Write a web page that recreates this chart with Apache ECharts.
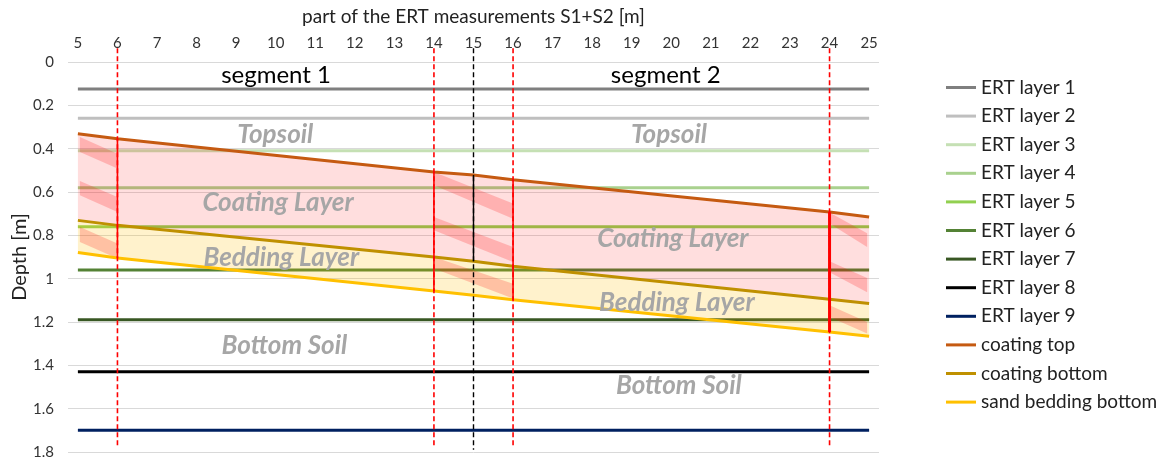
<!DOCTYPE html>
<html><head><meta charset="utf-8">
<script src="https://cdn.jsdelivr.net/npm/echarts@6/dist/echarts.min.js"></script>
<style>html,body{margin:0;padding:0;background:#fff}#chart{width:1163px;height:463px}</style>
</head><body><div id="chart"></div>
<script>
// ---------- data ----------
const xTickValues = [5,6,7,8,9,10,11,12,13,14,15,16,17,18,19,20,21,22,23,24,25];
const depthTicks = [0,0.2,0.4,0.6,0.8,1,1.2,1.4,1.6,1.8];
const ertNames = ['ERT layer 1','ERT layer 2','ERT layer 3','ERT layer 4','ERT layer 5','ERT layer 6','ERT layer 7','ERT layer 8','ERT layer 9'];
const ertDepths = [0.125, 0.26, 0.41, 0.58, 0.76, 0.96, 1.19, 1.43, 1.70];
const ertStart = 5, ertEnd = 25;
const profileX = [5, 6, 14, 15, 16, 24, 25];
const coatingTop = [0.331, 0.354, 0.508, 0.522, 0.543, 0.692, 0.715];
const coatingBottom = [0.731, 0.754, 0.900, 0.920, 0.943, 1.095, 1.115];
const sandBottom = [0.879, 0.905, 1.057, 1.077, 1.097, 1.246, 1.266];
const profileNames = ['coating top','coating bottom','sand bedding bottom'];
const cutX = [6, 14, 16, 24];
const jointX = 15;
const guideTop = -0.063, guideBottom = 1.78;
// hatch stripes: [x1, top1, bottom1, x2, top2, bottom2]
const stripes = [
  [5.05,0.346,0.415, 6,0.423,0.492],
  [5.05,0.549,0.615, 6,0.623,0.692],
  [5.05,0.761,0.831, 6,0.838,0.907],
  [14,0.508,0.569, 16,0.653,0.723],
  [14,0.715,0.777, 16,0.854,0.923],
  [14,0.900,0.953, 16,1.023,1.092],
  [24,0.695,0.745, 24.95,0.790,0.854],
  [24,0.920,0.970, 24.95,0.997,1.063],
  [24,1.123,1.177, 24.95,1.200,1.253]
];
const segmentTexts = [[10.01,0.061,'segment 1'],[19.86,0.061,'segment 2']];
const zoneTexts = [
  [9.99,0.334,'Topsoil'],[19.94,0.334,'Topsoil'],
  [10.06,0.647,'Coating Layer'],[20.04,0.814,'Coating Layer'],
  [10.14,0.901,'Bedding Layer'],[20.14,1.109,'Bedding Layer'],
  [10.22,1.307,'Bottom Soil'],[20.19,1.492,'Bottom Soil']
];

// ---------- styles ----------
const ertColors = ['#7F7F7F','#BFBFBF','#C5E0B4','#A9D18E','#92D050','#548235','#385723','#000000','#002060'];
const profileColors = ['#C55A11','#BF9000','#FFC000'];
const FONT = 'Lato, "Noto Sans", sans-serif';

const series = [];
ertNames.forEach((n,i)=>{
  series.push({type:'line', name:n, z:2, symbol:'none', silent:true,
    data:[[ertStart, ertDepths[i]],[ertEnd, ertDepths[i]]],
    lineStyle:{color:ertColors[i], width:3}, itemStyle:{color:ertColors[i]}});
});

function polySeries(name, polys, color, z){
  return {type:'custom', name, z, silent:true, clip:false,
    data: polys.map(p=>[p[0][0], p[0][1]]),
    encode:{x:0,y:1},
    renderItem:(params, api)=>{
      const pts = polys[params.dataIndex].map(p=>api.coord(p));
      return {type:'polygon', shape:{points:pts}, style:{fill:color}};
    }};
}
const ptsOf = arr => profileX.map((x,i)=>[x, arr[i]]);
const pinkPoly = ptsOf(coatingTop).concat(ptsOf(coatingBottom).reverse());
const yellowPoly = ptsOf(coatingBottom).concat(ptsOf(sandBottom).reverse());
series.push(polySeries('coatingFill',[pinkPoly],'rgba(255,0,0,0.13)',3));
series.push(polySeries('beddingFill',[yellowPoly],'rgba(255,192,0,0.2)',3));
series.push(polySeries('hatch', stripes.map(s=>[[s[0],s[1]],[s[3],s[4]],[s[3],s[5]],[s[0],s[2]]]), 'rgba(255,0,0,0.2)', 4));

[coatingTop, coatingBottom, sandBottom].forEach((arr,i)=>{
  series.push({type:'line', name:profileNames[i], z:5, symbol:'none', silent:true,
    data: ptsOf(arr), lineStyle:{color:profileColors[i], width:3}, itemStyle:{color:profileColors[i]}});
});

// guide lines
cutX.forEach((x,k)=>{
  series.push({type:'line', name:'cut'+k, z:6, symbol:'none', silent:true, clip:false,
    data:[[x,guideTop],[x,guideBottom]], lineStyle:{color:'#FF0000', width:1.6, type:[5,3]}});
  const idx = profileX.indexOf(x);
  series.push({type:'line', name:'cutSolid'+k, z:6, symbol:'none', silent:true,
    data:[[x,coatingTop[idx]],[x,sandBottom[idx]]], lineStyle:{color:'#FF0000', width: x===24?3:1.6}});
});
series.push({type:'line', name:'joint', z:6, symbol:'none', silent:true, clip:false,
  data:[[jointX,guideTop],[jointX,1.79]], lineStyle:{color:'#000000', width:1.4, type:[5,3]}});
{
  const idx = profileX.indexOf(jointX);
  series.push({type:'line', name:'jointSolid', z:6, symbol:'none', silent:true,
    data:[[jointX,coatingTop[idx]],[jointX,coatingBottom[idx]]], lineStyle:{color:'#000000', width:1.4}});
}

function textSeries(name, items, style){
  return {type:'custom', name, z:7, silent:true, clip:false,
    data: items.map(t=>[t[0],t[1]]), encode:{x:0,y:1},
    renderItem:(params, api)=>{
      const t = items[params.dataIndex];
      const p = api.coord([t[0],t[1]]);
      return {type:'text', x:p[0], y:p[1], style:Object.assign({text:t[2], textAlign:'center', textVerticalAlign:'middle'}, style)};
    }};
}
series.push(textSeries('segTxt', segmentTexts, {fill:'#000', font:'24px '+FONT}));
series.push(textSeries('zoneTxt', zoneTexts, {fill:'#A6A6A6', font:'italic bold 26px '+FONT}));

const chart = echarts.init(document.getElementById('chart'), null, {renderer:'canvas'});
chart.setOption({
  animation:false,
  backgroundColor:'#fff',
  textStyle:{fontFamily:FONT},
  grid:{left:68, right:284, top:62, bottom:11, containLabel:false, outerBoundsMode:'none'},
  legend:{orient:'vertical', left:941, top:73, icon:'rect', itemWidth:30, itemHeight:3, itemGap:9.6,
    data:ertNames.concat(profileNames), textStyle:{fontSize:19, color:'#222', fontFamily:FONT}},
  xAxis:{type:'value', position:'top', min:4.75, max:25.25, interval:0.25,
    name:'part of the ERT measurements S1+S2 [m]', nameLocation:'middle', nameGap:36,
    nameTextStyle:{fontSize:19, color:'#222'},
    axisLine:{show:false}, axisTick:{show:false}, splitLine:{show:false},
    axisLabel:{fontSize:15, color:'#333', margin:11,
      formatter:v=>{const r=Math.round(v); return (Math.abs(v-r)<1e-6 && xTickValues.includes(r))?String(r):'';}}},
  yAxis:{type:'value', inverse:true, min:depthTicks[0], max:depthTicks[depthTicks.length-1], interval:0.2,
    name:'Depth [m]', nameLocation:'middle', nameGap:38, nameMoveOverlap:false,
    nameTextStyle:{fontSize:20, color:'#222'},
    axisLine:{show:false}, axisTick:{show:false},
    splitLine:{lineStyle:{color:'#D9D9D9', width:1}},
    axisLabel:{fontSize:15, color:'#333', margin:14}},
  series
});
</script></body></html>
